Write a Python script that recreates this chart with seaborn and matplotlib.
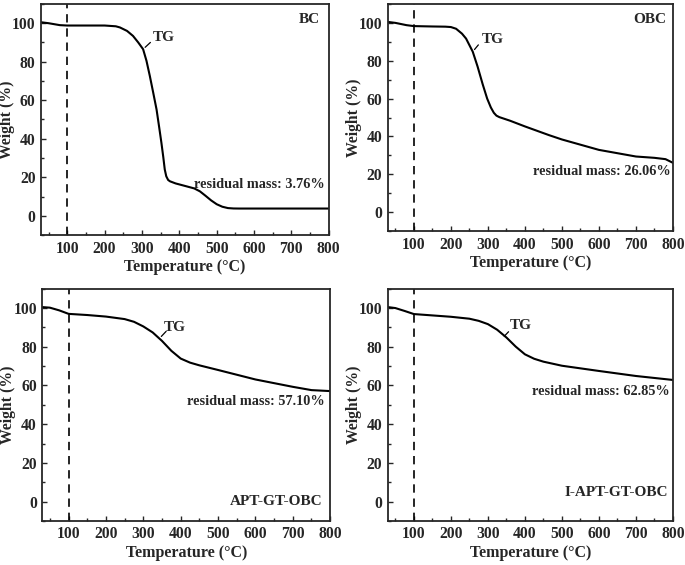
import numpy as np
import pandas as pd
import matplotlib
matplotlib.use("Agg")
import matplotlib.pyplot as plt
from matplotlib.ticker import MultipleLocator
import seaborn as sns

sns.set_style("ticks")
plt.rcParams['font.family'] = ['Liberation Serif', 'DejaVu Serif']
plt.rcParams['font.weight'] = 'bold'
plt.rcParams['axes.labelweight'] = 'bold'

# 数据
temp_bc = [30, 50, 80, 100, 150, 200, 230, 241, 260, 276, 290, 303, 312, 321, 330, 339, 346, 352, 357, 361, 365, 370, 375, 390, 419, 440, 455, 470, 485, 500, 515, 530, 545, 560, 600, 700, 800]
wt_bc = [100.5, 100.0, 99.0, 98.8, 98.8, 98.8, 98.4, 97.8, 96.0, 93.4, 90.0, 86.5, 80.5, 72.6, 64.0, 55.2, 46.0, 37.9, 30.5, 24.0, 20.5, 18.6, 17.9, 16.8, 15.3, 14.2, 12.7, 10.4, 8.0, 6.0, 4.7, 4.0, 3.8, 3.76, 3.76, 3.76, 3.76]

temp_obc = [30, 50, 80, 100, 150, 185, 200, 214, 230, 241, 259, 272, 286, 298, 308, 316, 323, 331, 360, 400, 465, 500, 600, 700, 750, 780, 800]
wt_obc = [100.5, 100.0, 98.8, 98.3, 98.1, 98.0, 97.8, 96.9, 94.3, 91.7, 84.8, 77.0, 67.5, 60.0, 55.3, 52.5, 51.0, 50.2, 48.3, 45.3, 40.7, 38.4, 32.9, 29.4, 28.7, 28.0, 26.06]

temp_apt = [30, 50, 75, 100, 150, 200, 250, 275, 300, 325, 350, 375, 400, 425, 450, 500, 600, 700, 750, 800]
wt_apt = [100.5, 100.2, 98.8, 97.0, 96.4, 95.6, 94.3, 92.9, 90.5, 87.4, 83.0, 77.9, 73.9, 71.8, 70.4, 68.0, 63.1, 59.3, 57.6, 57.1]

temp_iapt = [30, 50, 75, 100, 150, 200, 250, 275, 300, 325, 350, 375, 400, 425, 450, 500, 600, 700, 800]
wt_iapt = [100.5, 100.0, 98.5, 96.9, 96.2, 95.5, 94.5, 93.4, 91.7, 88.8, 84.8, 80.1, 76.1, 73.8, 72.3, 70.2, 67.5, 64.9, 62.85]

names = ['BC', 'OBC', 'APT-GT-OBC', 'I-APT-GT-OBC']
residual = ['residual mass: 3.76%', 'residual mass: 26.06%', 'residual mass: 57.10%', 'residual mass: 62.85%']
temps = [temp_bc, temp_obc, temp_apt, temp_iapt]
weights = [wt_bc, wt_obc, wt_apt, wt_iapt]

# 版式
rects = [[0.060, 0.584, 0.420, 0.409],
         [0.5664, 0.591, 0.416, 0.402],
         [0.062, 0.078, 0.420, 0.411],
         [0.5664, 0.078, 0.416, 0.411]]
tg_text = [(357, 92.5), (313, 91.3), (385, 90.0), (388, 90.8)]
tg_line = [((303, 86.5), (328, 91.0)), ((259, 84.8), (279, 89.5)),
           ((343, 84.3), (366, 89.0)), ((339, 84.4), (361, 88.8))]
res_pos = [(790, 16.0), (793, 21.6), (785, 51.9), (791, 56.7)]
name_pos = [(777, 101.7), (782, 101.7), (780, 0.0), (788, 4.8)]

fig = plt.figure(figsize=(6.85, 5.65), dpi=100)

for i in range(4):
    ax = fig.add_axes(rects[i])
    df = pd.DataFrame({'T': temps[i], 'W': weights[i]})
    sns.lineplot(data=df, x='T', y='W', ax=ax, color='black', linewidth=1.5)
    ax.axvline(100, color='black', linestyle=(0, (5, 3.5)), linewidth=1.2)
    ax.set_xlim(30, 800)
    ax.set_ylim(-10, 110)
    ax.xaxis.set_major_locator(MultipleLocator(100))
    ax.xaxis.set_minor_locator(MultipleLocator(50))
    ax.yaxis.set_major_locator(MultipleLocator(20))
    ax.yaxis.set_minor_locator(MultipleLocator(10))
    ax.tick_params(which='both', direction='in', labelsize=11.3, width=1, pad=4)
    ax.tick_params(which='major', length=3.5)
    ax.tick_params(which='minor', length=2)
    for lab in ax.get_xticklabels() + ax.get_yticklabels():
        lab.set_fontweight('bold')
    for s in ax.spines.values():
        s.set_linewidth(1.3)
    ax.set_xlabel('Temperature (°C)', fontsize=11.5, fontweight='bold', labelpad=2)
    ax.set_ylabel('Weight (%)', fontsize=11.3, fontweight='bold', labelpad=-2)
    ax.text(tg_text[i][0], tg_text[i][1], 'TG', fontsize=11, fontweight='bold',
            ha='center', va='center')
    ax.annotate('', xy=tg_line[i][0], xytext=tg_line[i][1],
                arrowprops=dict(arrowstyle='-', color='black', lw=0.9))
    ax.text(res_pos[i][0], res_pos[i][1], residual[i], fontsize=10.3, fontweight='bold',
            ha='right', va='center')
    ax.text(name_pos[i][0], name_pos[i][1], names[i], fontsize=11, fontweight='bold',
            ha='right', va='center')

fig.savefig('out.png', dpi=100)
